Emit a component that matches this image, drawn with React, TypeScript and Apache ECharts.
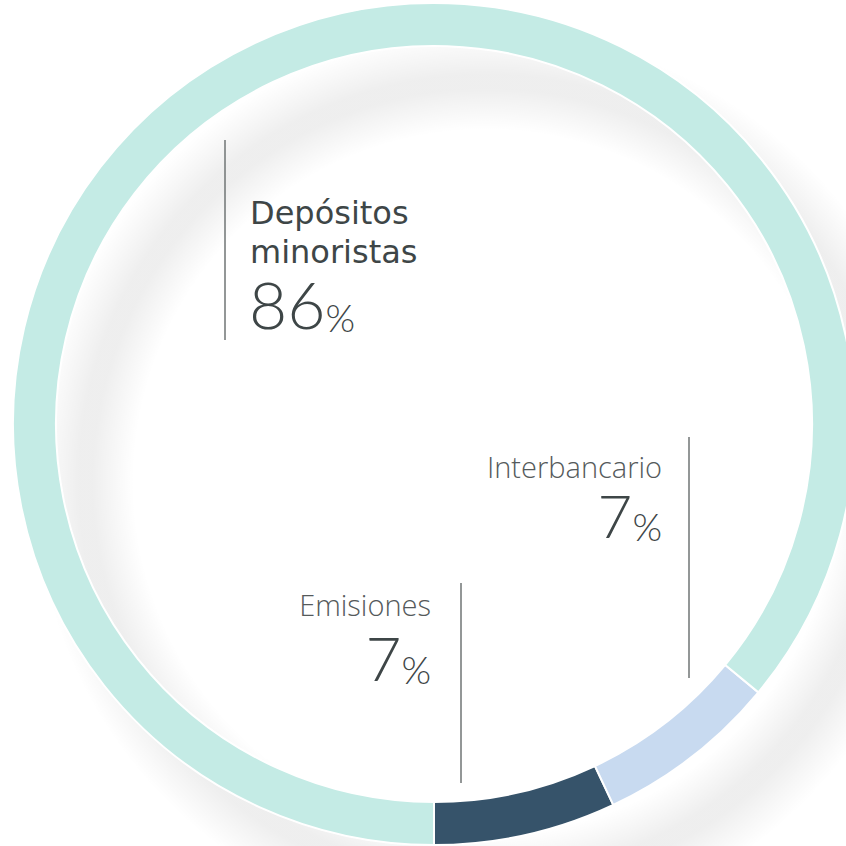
import React, { useEffect, useRef } from "react";
import * as echarts from "echarts";

const categories = ["Emisiones", "Interbancario", "Depósitos minoristas"];
const values = [7, 7, 86];
const colors = ["#36536a", "#c8daf0", "#c4ebe5"];
const titleLines = ["Depósitos", "minoristas"];
const labelTitles = ["Emisiones", "Interbancario"];

export default function App() {
  const ref = useRef<HTMLDivElement>(null);
  useEffect(() => {
    const chart = echarts.init(ref.current!, undefined, { renderer: "svg" });
    const cx = 434;
    const cy = 424;
    const r0 = 378;
    const r1 = 421;
    const textColor = "#3e4647";
    const lightText = "#555a5b";
    const lineColor = "#6f7475";
    const sR = 470;
    const shadowFill = {
      type: "radial",
      x: 0.5,
      y: 0.5,
      r: 0.5,
      colorStops: [
        { offset: 0, color: "rgba(0,0,0,0)" },
        { offset: 352 / sR, color: "rgba(0,0,0,0)" },
        { offset: 374 / sR, color: "rgba(0,0,0,0.035)" },
        { offset: 393 / sR, color: "rgba(0,0,0,0.065)" },
        { offset: 408 / sR, color: "rgba(0,0,0,0.065)" },
        { offset: 428 / sR, color: "rgba(0,0,0,0.035)" },
        { offset: 452 / sR, color: "rgba(0,0,0,0)" },
        { offset: 1, color: "rgba(0,0,0,0)" },
      ],
    };
    const pct = (v: number, nSize: number) => ({
      text: `{n|${v}}{p|%}`,
      rich: {
        n: { fontFamily: "Lato", fontWeight: 300, fontSize: nSize, lineHeight: nSize, fill: textColor, color: textColor },
        p: {
          fontFamily: "Lato", fontWeight: 300, fontSize: 38,
          lineHeight: Math.round(nSize - 0.76 * (nSize - 38)) + 10,
          verticalAlign: "bottom",
          fill: textColor, color: textColor,
        },
      },
    });
    chart.setOption({
      animation: false,
      backgroundColor: "#ffffff",
      series: [
        {
          type: "pie",
          center: [cx, cy],
          radius: [r0, r1],
          startAngle: -90,
          clockwise: false,
          z: 2,
          label: { show: false },
          labelLine: { show: false },
          silent: true,
          itemStyle: { borderColor: "#ffffff", borderWidth: 2 },
          data: categories.map((c, i) => ({
            name: c,
            value: values[i],
            itemStyle: { color: colors[i] },
          })),
        },
      ],
      graphic: [
        {
          type: "ring",
          z: -10,
          silent: true,
          shape: { cx: cx + 52, cy: cy + 58, r: sR, r0: 340 },
          style: { fill: shadowFill },
        },
        { type: "line", z: 10, shape: { x1: 225, y1: 140, x2: 225, y2: 340 }, style: { stroke: lineColor, lineWidth: 1.5 } },
        { type: "line", z: 10, shape: { x1: 689, y1: 437, x2: 689, y2: 678 }, style: { stroke: lineColor, lineWidth: 1.5 } },
        { type: "line", z: 10, shape: { x1: 461, y1: 583, x2: 461, y2: 783 }, style: { stroke: lineColor, lineWidth: 1.5 } },
        {
          type: "text", z: 10, x: 250, y: 213,
          style: {
            text: titleLines[0], fill: textColor, font: "400 32px 'DejaVu Sans'", lineHeight: 34,
            textAlign: "left", textVerticalAlign: "middle",
          },
        },
        {
          type: "text", z: 10, x: 250, y: 252,
          style: {
            text: titleLines[1], fill: textColor, font: "400 32px 'DejaVu Sans'", lineHeight: 34,
            textAlign: "left", textVerticalAlign: "middle",
          },
        },
        {
          type: "text", z: 10, x: 249, y: 303,
          style: { ...pct(values[2], 66), textAlign: "left", textVerticalAlign: "middle" },
        },
        {
          type: "text", z: 10, x: 662, y: 466,
          style: {
            text: labelTitles[1], fill: lightText, font: "300 29px 'Open Sans'", lineHeight: 30,
            textAlign: "right", textVerticalAlign: "middle",
          },
        },
        {
          type: "text", z: 10, x: 662, y: 515,
          style: { ...pct(values[1], 60), textAlign: "right", textVerticalAlign: "middle" },
        },
        {
          type: "text", z: 10, x: 431, y: 604,
          style: {
            text: labelTitles[0], fill: lightText, font: "300 29px 'Open Sans'", lineHeight: 30,
            textAlign: "right", textVerticalAlign: "middle",
          },
        },
        {
          type: "text", z: 10, x: 431, y: 656.5,
          style: { ...pct(values[0], 62), textAlign: "right", textVerticalAlign: "middle" },
        },
      ],
    });
    return () => chart.dispose();
  }, []);
  return (
    <div
      ref={ref}
      style={{ position: "fixed", left: 0, top: 0, width: 846, height: 846, background: "#fff" }}
    />
  );
}
